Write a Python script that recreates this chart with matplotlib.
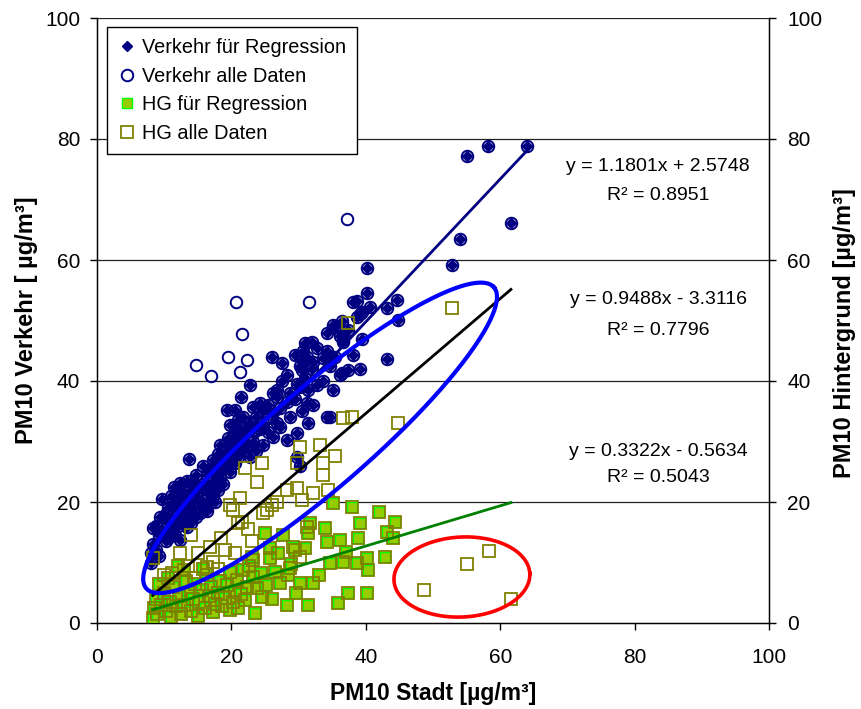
import numpy as np
import matplotlib.pyplot as plt

plt.rcParams['font.family'] = ['Liberation Sans', 'DejaVu Sans']

# PM10 Stadt (x) gegen Verkehr (y): Tage, die in die Regression eingehen
verkehr_reg = [
    (8.0, 10.0), (8.0, 11.5), (8.4, 15.7), (8.4, 13.0), (8.8, 12.0), (8.8, 16.0),
    (9.2, 14.5), (9.2, 11.0), (9.4, 17.5), (9.7, 20.5), (9.7, 15.0), (10.2, 13.5),
    (10.2, 18.0), (10.6, 16.5), (10.6, 19.0), (10.6, 14.0), (11.0, 15.5), (11.0, 21.0),
    (11.4, 17.0), (11.4, 22.5), (11.6, 19.5), (11.6, 14.5), (12.0, 16.0), (12.0, 18.5),
    (12.0, 22.0), (12.4, 13.7), (12.4, 23.1), (12.4, 20.0), (12.8, 17.5), (12.8, 21.0),
    (13.4, 15.9), (13.4, 19.0), (13.4, 23.5), (13.7, 27.1), (13.7, 18.0), (14.0, 20.5),
    (14.0, 16.5), (14.0, 22.0), (14.3, 23.1), (14.3, 19.0), (14.8, 21.0), (14.8, 17.5),
    (14.8, 24.5), (15.3, 18.2), (15.3, 22.5), (15.3, 20.0), (15.8, 23.0), (15.8, 26.0),
    (15.8, 19.5), (16.3, 24.5), (16.3, 21.5), (16.3, 18.5), (16.8, 19.8), (16.8, 25.5),
    (16.8, 22.5), (17.3, 23.5), (17.3, 27.0), (17.3, 21.0), (17.6, 20.0), (17.6, 25.0),
    (18.0, 26.4), (18.0, 22.0), (18.0, 28.0), (18.3, 24.0), (18.3, 29.5), (18.8, 25.5),
    (18.8, 27.5), (18.8, 23.0), (19.3, 35.2), (19.3, 28.5), (19.3, 26.0), (19.5, 30.6),
    (19.5, 27.0), (19.8, 32.7), (19.8, 29.5), (19.8, 25.0), (20.2, 28.0), (20.2, 30.5),
    (20.5, 35.2), (20.5, 32.4), (20.5, 26.5), (21.0, 29.0), (21.0, 31.0), (21.0, 27.5),
    (21.0, 33.5), (21.4, 37.4), (21.4, 30.0), (21.8, 28.5), (21.8, 34.0), (21.8, 31.5),
    (22.3, 31.9), (22.3, 29.5), (22.8, 39.3), (22.8, 33.0), (22.8, 27.5), (23.2, 35.7),
    (23.2, 31.9), (23.2, 30.0), (23.7, 34.0), (23.7, 28.5), (24.3, 36.3), (24.3, 32.0),
    (24.7, 33.1), (24.7, 29.4), (24.7, 35.0), (25.4, 36.0), (25.4, 31.5), (26.0, 44.0),
    (26.0, 34.5), (26.2, 30.7), (26.2, 38.0), (26.8, 38.5), (26.8, 37.4), (26.8, 33.0),
    (27.2, 32.4), (27.2, 35.5), (27.5, 43.0), (27.5, 40.0), (28.3, 30.2), (28.3, 36.5),
    (28.3, 41.0), (28.7, 34.1), (28.7, 38.0), (29.5, 44.3), (29.5, 37.0), (29.8, 31.4),
    (29.8, 39.5), (29.8, 27.5), (30.2, 39.0), (30.2, 26.0), (30.2, 42.5), (30.5, 41.8),
    (30.5, 35.0), (30.7, 43.5), (30.7, 45.0), (31.0, 46.3), (31.0, 40.5), (31.2, 36.3),
    (31.2, 44.0), (31.4, 33.1), (31.4, 38.5), (32.0, 46.5), (32.0, 42.0), (32.1, 43.1),
    (32.1, 36.0), (32.7, 39.3), (32.7, 45.5), (33.6, 43.8), (33.6, 40.0), (34.2, 47.9),
    (34.2, 34.1), (34.2, 45.0), (34.7, 34.0), (34.7, 42.5), (35.1, 49.3), (35.1, 38.5),
    (35.4, 49.0), (35.4, 44.0), (36.2, 41.0), (36.2, 47.5), (36.5, 41.3), (36.5, 50.0),
    (36.6, 46.5), (36.6, 46.8), (37.4, 41.8), (37.4, 48.5), (38.1, 53.0), (38.1, 44.3),
    (38.7, 53.2), (38.7, 50.5), (39.1, 42.0), (39.1, 51.0), (39.4, 51.4), (39.4, 47.0),
    (40.2, 58.7), (40.2, 54.5), (40.6, 52.3), (43.2, 52.1), (43.2, 43.6), (44.6, 53.4),
    (44.8, 50.1), (52.8, 59.2), (54.0, 63.5), (55.1, 77.2), (58.2, 78.8), (61.6, 66.1),
    (64.0, 78.8),
]
# Verkehr: Tage, die nicht in die Regression eingehen
verkehr_excl = [
    (37.2, 66.8), (20.7, 53.1), (31.5, 53.1), (21.6, 47.8), (14.7, 42.6),
    (19.5, 44.0), (22.3, 43.5), (17.0, 40.8), (21.3, 41.5),
]
# Hintergrund (HG): Tage für Regression
hg_reg = [
    (37.9, 19.2), (42.0, 18.3), (35.1, 19.8), (39.1, 16.5), (43.2, 15.0), (44.3, 16.7),
    (31.7, 16.5), (31.4, 14.9), (25.0, 14.9), (27.7, 14.5), (29.5, 12.0), (31.0, 12.4),
    (34.2, 13.4), (36.2, 13.7), (38.8, 14.0), (34.7, 9.9), (36.6, 10.1), (38.7, 9.9),
    (40.2, 10.7), (40.3, 8.8), (42.9, 10.9), (44.0, 14.0), (32.1, 6.6), (30.2, 6.6),
    (27.2, 6.6), (28.4, 7.9), (25.7, 10.7), (23.2, 10.4), (21.7, 8.8), (37.4, 5.0),
    (40.2, 5.0), (35.9, 3.3), (31.4, 3.0), (28.3, 3.0), (23.5, 1.7), (19.8, 2.1),
    (8.3, 0.8), (24.6, 4.3), (22.3, 6.0), (23.2, 7.6), (20.8, 7.1), (37.0, 11.7),
    (33.9, 15.7), (29.2, 12.6), (25.7, 12.4), (28.7, 9.1), (23.1, 10.9),
    (8.5, 2.5), (8.8, 4.0), (9.0, 1.5), (9.5, 3.0), (10.0, 5.0), (10.2, 2.0),
    (10.8, 3.5), (11.0, 1.0), (11.3, 6.0), (11.8, 2.8), (12.2, 4.5), (12.5, 1.5),
    (13.0, 3.0), (13.3, 7.0), (13.6, 5.0), (14.0, 2.0), (14.3, 4.0), (14.6, 6.5),
    (15.0, 1.2), (15.2, 3.5), (15.6, 5.5), (16.0, 2.5), (16.3, 8.0), (16.6, 4.5),
    (17.0, 6.0), (17.3, 1.8), (17.6, 3.2), (18.0, 5.0), (18.3, 7.0), (18.6, 2.8),
    (19.0, 4.2), (19.4, 6.3), (19.8, 8.5), (20.2, 3.5), (20.6, 5.2), (21.0, 2.5),
    (21.4, 4.8), (22.0, 3.8), (22.6, 9.5), (23.8, 5.8), (24.4, 8.2), (25.2, 6.2),
    (26.0, 4.0), (26.5, 8.5), (27.0, 11.5), (28.8, 9.8), (29.6, 5.0), (33.0, 8.0),
    (15.8, 9.0), (13.0, 8.8), (10.5, 7.5), (12.0, 9.5), (9.2, 6.5),
]
# HG: Tage, die nicht in die Regression eingehen
hg_excl = [
    (52.8, 52.1), (37.4, 49.6), (44.8, 33.1), (36.6, 33.9), (37.9, 34.1), (30.2, 29.1),
    (35.4, 27.6), (33.6, 26.4), (29.8, 26.4), (24.6, 26.4), (33.6, 24.5), (23.8, 23.3),
    (29.8, 22.3), (32.1, 21.5), (34.4, 22.0), (21.3, 20.7), (26.8, 20.0), (30.5, 20.3),
    (20.2, 18.7), (24.7, 18.2), (21.6, 16.7), (12.4, 11.6), (8.4, 10.7), (17.3, 10.1),
    (16.4, 9.3), (16.8, 12.6), (21.0, 16.5), (19.8, 19.5), (25.3, 18.7), (26.0, 19.5),
    (28.3, 22.0), (31.2, 15.9), (30.2, 10.9), (11.2, 8.3), (22.0, 25.6), (33.2, 29.4),
    (14.0, 14.5), (18.5, 14.0), (13.5, 9.5), (19.0, 12.0), (15.0, 11.5), (10.0, 8.0),
    (11.5, 6.5), (14.5, 7.5), (18.0, 9.0), (20.5, 11.5), (23.0, 13.5), (22.5, 15.5),
    (48.7, 5.5), (55.1, 9.8), (58.3, 11.9), (61.6, 4.0),
]

# Trendlinien: Steigung, Achsenabschnitt, R²
trends = [
    (1.1801, 2.5748, 0.8951),
    (0.9488, -3.3116, 0.7796),
    (0.3322, -0.5634, 0.5043),
]
trend_colors = ['#000080', '#000000', '#008000']

vr_x, vr_y = np.array(verkehr_reg).T
ve_x, ve_y = np.array(verkehr_excl).T
hr_x, hr_y = np.array(hg_reg).T
he_x, he_y = np.array(hg_excl).T
va_x, va_y = np.concatenate([vr_x, ve_x]), np.concatenate([vr_y, ve_y])
ha_x, ha_y = np.concatenate([hr_x, he_x]), np.concatenate([hr_y, he_y])

W, H = 861, 709
fig = plt.figure(figsize=(W / 100, H / 100), dpi=100)
ax = fig.add_axes([97 / W, 1 - 623 / H, 672 / W, 605 / H])
ax.set_xlim(0, 100)
ax.set_ylim(0, 100)

for y in range(20, 101, 20):
    ax.axhline(y, color='#222222', lw=0.9, zorder=0)

ax.plot(vr_x, vr_y, 'D', ms=4.8, color='#000080', ls='none', zorder=2,
        label='Verkehr für Regression')
ax.plot(va_x, va_y, 'o', ms=8.3, mfc='none', mec='#000080', mew=1.4, ls='none',
        zorder=3, label='Verkehr alle Daten')
ax.plot(hr_x, hr_y, 's', ms=7, mfc='#99CC00', mec='#00FF00', mew=1.0, ls='none',
        zorder=4, label='HG für Regression')
ax.plot(ha_x, ha_y, 's', ms=8.6, mfc='none', mec='#808000', mew=1.3, ls='none',
        zorder=5, label='HG alle Daten')

# Trendlinien über den Datenbereich
ranges = [(vr_x.min(), vr_x.max()), (ha_x.min(), ha_x.max()), (ha_x.min(), ha_x.max())]
for (m, b, r2), col, (x0, x1) in zip(trends, trend_colors, ranges):
    xs = np.array([x0, x1])
    ax.plot(xs, m * xs + b, color=col, lw=2.0, zorder=6)

# Ellipsen (in Pixeln definiert, damit die Drehung stimmt)
sx, sy = 672 / 100, 605 / 100


def ellipse(cx, cy, a, b, ang):
    t = np.linspace(0, 2 * np.pi, 300)
    th = np.radians(ang)
    dx = a * np.cos(t) * np.cos(th) - b * np.sin(t) * np.sin(th)
    dy = a * np.cos(t) * np.sin(th) + b * np.sin(t) * np.cos(th)
    return cx + dx / sx, cy + dy / sy


ex, ey = ellipse(33.2, 30.6, 230, 50, 40.9)
ax.plot(ex, ey, color='#0000FF', lw=3.0, zorder=7)
ex, ey = ellipse(54.3, 7.6, 68, 40, 3)
ax.plot(ex, ey, color='#FF0000', lw=2.6, zorder=7)

# Gleichungen
eq_pos = [(83.5, 75.4, 70.7), (83.5, 53.4, 48.4), (83.5, 28.3, 24.0)]
for (m, b, r2), (tx, ty1, ty2) in zip(trends, eq_pos):
    sign = '+' if b >= 0 else '-'
    ax.text(tx, ty1, f'y = {m:.4f}x {sign} {abs(b):.4f}', ha='center', va='center',
            fontsize=14, zorder=8)
    ax.text(tx, ty2, f'R² = {r2:.4f}', ha='center', va='center', fontsize=14, zorder=8)

ax.set_xticks(range(0, 101, 20))
ax.set_yticks(range(0, 101, 20))
ax.tick_params(axis='both', direction='out', length=5, width=1, labelsize=15)
ax.tick_params(axis='x', pad=13)
ax.tick_params(axis='y', pad=7)
ax.spines['top'].set_visible(False)
for s in ['left', 'bottom', 'right']:
    ax.spines[s].set_linewidth(1)

ax2 = ax.twinx()
ax2.set_ylim(0, 100)
ax2.set_yticks(range(0, 101, 20))
ax2.tick_params(axis='y', direction='out', length=5, width=1, labelsize=15, pad=8)
ax2.spines['top'].set_visible(False)

ax.set_xlabel('PM10 Stadt [µg/m³]', fontsize=16.5, fontweight='bold')
ax.xaxis.set_label_coords(0.5, -0.098)
ax.set_ylabel('PM10 Verkehr [ µg/m³]', fontsize=17, fontweight='bold')
ax.yaxis.set_label_coords(-0.088, 0.5)
ax2.set_ylabel('PM10 Hintergrund [µg/m³]', fontsize=17, fontweight='bold')
ax2.yaxis.set_label_coords(1.095, 0.48)

leg = ax.legend(loc='upper left', bbox_to_anchor=(0.0149, 0.985), fontsize=14.3,
                frameon=True, fancybox=False, edgecolor='black', framealpha=1,
                numpoints=1, handlelength=0.9, handletextpad=0.3,
                labelspacing=0.48, borderpad=0.55, borderaxespad=0)
leg.get_frame().set_linewidth(1)
leg.set_zorder(10)

fig.savefig('out.png', dpi=100)
